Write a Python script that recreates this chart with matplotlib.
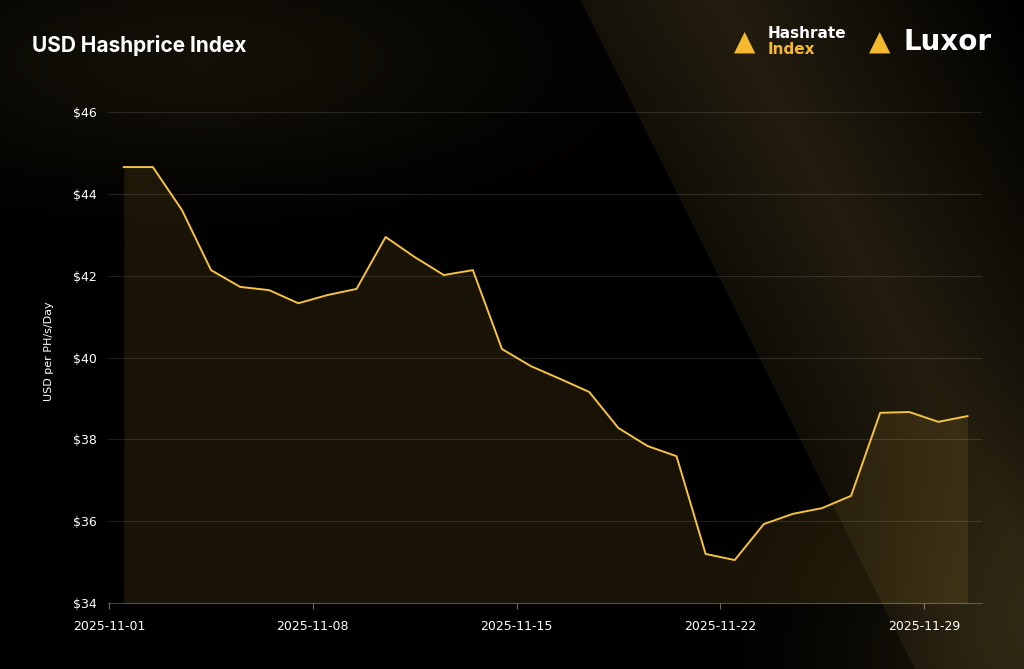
import numpy as np
import matplotlib
matplotlib.use("Agg")
import matplotlib.pyplot as plt
import matplotlib.dates as mdates
import pandas as pd

dates = pd.date_range("2025-11-01 12:00", periods=30, freq="D")
values = [44.66, 44.66, 43.61, 42.14, 41.73, 41.65, 41.33, 41.53, 41.68, 42.95,
          42.46, 42.02, 42.14, 40.21, 39.79, 39.48, 39.16, 38.28, 37.84, 37.59,
          35.20, 35.05, 35.93, 36.18, 36.32, 36.62, 38.65, 38.67, 38.43, 38.57]
yticks = [34, 36, 38, 40, 42, 44, 46]
xticks = pd.to_datetime(["2025-11-01", "2025-11-08", "2025-11-15", "2025-11-22", "2025-11-29"])

fig = plt.figure(figsize=(10.24, 6.69), dpi=100)
fig.patch.set_facecolor("black")

bg = fig.add_axes([0, 0, 1, 1], zorder=0)
H, W = 669, 1024
yy, xx = np.mgrid[0:H, 0:W]
img = np.zeros((H, W, 3))
d = (xx - 600) - (yy) * 0.55
band = np.clip(1 - np.abs(d - 120) / 300, 0, 1) * (xx > 580 + yy * 0.5)
glow1 = np.exp(-(((xx - 200) / 300) ** 2 + ((yy - 60) / 110) ** 2))
glow2 = np.exp(-(((xx - 980) / 160) ** 2 + ((yy - 660) / 160) ** 2))
inten = 0.16 * band + 0.09 * glow1 + 0.10 * glow2
img[..., 0] = inten * 0.85
img[..., 1] = inten * 0.7
img[..., 2] = inten * 0.35
bg.imshow(np.clip(img, 0, 1), aspect="auto", extent=[0, 1, 0, 1])
bg.axis("off")

ax = fig.add_axes([108 / W, 1 - 603 / H, (982 - 108) / W, (603 - 100) / H], zorder=1)
ax.set_facecolor("none")
ax.plot(dates, values, color="#f5c242", lw=1.4, zorder=3)
ax.fill_between(dates, values, 33, color="#f5c242", alpha=0.10, lw=0, zorder=2)
ax.set_ylim(34, 46.3)
ax.set_xlim(pd.Timestamp("2025-10-31 23:00"), pd.Timestamp("2025-12-01 00:00"))
ax.set_yticks(yticks)
ax.set_yticklabels([f"${v}" for v in yticks])
ax.set_xticks(xticks)
ax.xaxis.set_major_formatter(mdates.DateFormatter("%Y-%m-%d"))
ax.grid(axis="y", color="white", alpha=0.12, lw=0.8)
for s in ax.spines.values():
    s.set_visible(False)
ax.spines["bottom"].set_visible(True)
ax.spines["bottom"].set_color((1, 1, 1, 0.25))
ax.tick_params(colors="white", labelsize=9, length=0, pad=8)
ax.tick_params(axis="x", length=4, color=(1, 1, 1, 0.4))
ax.set_ylabel("USD per PH/s/Day", color="white", fontsize=8, labelpad=14)

fig.text(32 / W, 1 - 45 / H, "USD Hashprice Index", color="white", fontsize=15,
         fontweight="bold", va="center", family="Inter")
fig.text(745 / W, 1 - 42 / H, "▲", color="#f5b82e", fontsize=20, va="center", ha="center")
fig.text(768 / W, 1 - 34 / H, "Hashrate", color="white", fontsize=11, fontweight="bold", va="center")
fig.text(768 / W, 1 - 50 / H, "Index", color="#f5b82e", fontsize=11, fontweight="bold", va="center")
fig.text(880 / W, 1 - 42 / H, "▲", color="#f5b82e", fontsize=20, va="center", ha="center")
fig.text(903 / W, 1 - 42 / H, "Luxor", color="white", fontsize=20, fontweight="bold", va="center")

fig.savefig("out.png", dpi=100, facecolor="black")
